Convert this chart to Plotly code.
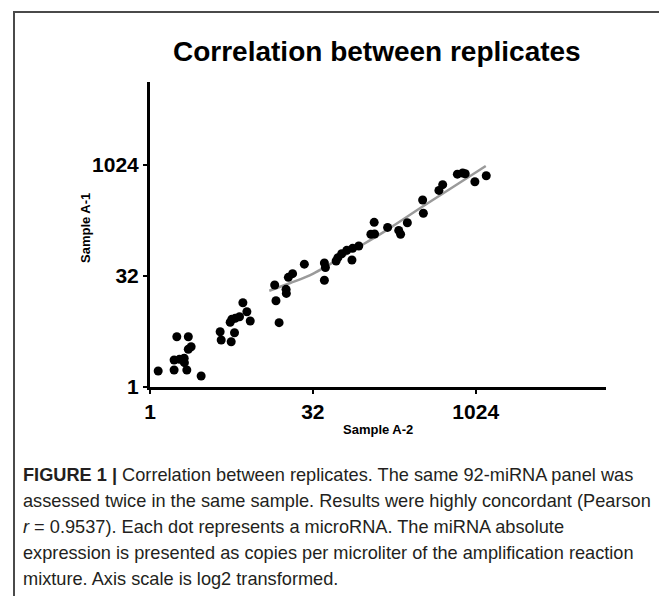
import plotly.graph_objects as go
import math

# ---- data (copies per microliter) ----
sample_a2 = [1.19, 1.67, 1.67, 1.87, 2.07, 2.08, 2.19, 1.77, 2.26, 2.26, 2.40, 2.97,
             4.45, 4.55, 5.63, 6.04, 5.51, 5.71, 6.13, 6.72, 7.86, 7.22, 8.44,
             14.2, 14.6, 15.6, 18.1, 18.2, 19.0, 20.8, 26.7, 40.9, 41.8, 40.9,
             52.5, 54.5, 59.1, 65.8, 74.6, 73.5, 85.0, 110, 119, 118, 157, 199,
             207, 239, 331, 336, 468, 507, 693, 776, 819, 1006, 1281]
sample_a1 = [1.65, 1.70, 2.32, 2.37, 2.45, 2.14, 1.70, 4.81, 4.81, 3.25, 3.52, 1.41,
             5.62, 4.34, 4.11, 5.45, 7.54, 8.28, 8.54, 8.98, 10.5, 13.9, 7.85,
             24.2, 14.8, 7.45, 21.1, 18.6, 30.7, 34.4, 46.3, 48.0, 41.7, 28.0,
             51.1, 56.7, 64.2, 71.4, 76.0, 52.7, 81.6, 118, 119, 171, 146, 133,
             118, 169, 343, 227, 463, 554, 769, 798, 781, 608, 733]

# regression line as drawn
fit_x = [12.66, 19.8, 32.3, 75.9, 144, 331, 1268]
fit_y = [20.2, 25.7, 34.6, 72.1, 126, 280, 993]

tick_vals = [1, 32, 1024]
tick_text = ["1", "32", "1024"]

title_text = "Correlation between replicates"
x_title = "Sample A-2"
y_title = "Sample A-1"
caption_lines = [
    "<b>FIGURE 1 |</b> Correlation between replicates. The same 92-miRNA panel was",
    "assessed twice in the same sample. Results were highly concordant (Pearson",
    "<i>r</i> = 0.9537). Each dot represents a microRNA. The miRNA absolute",
    "expression is presented as copies per microliter of the amplification reaction",
    "mixture. Axis scale is log2 transformed.",
]

# ---- layout geometry (screen pixels; the page body adds an 8px offset) ----
OFF = 8
W, H = 667 - OFF, 596 - OFF
L, R, T, B = 150 - OFF, 606 - OFF, 82 - OFF, 387 - OFF


def pxx(x):
    return (x - OFF - L) / (R - L)


def pxy(y):
    return (B - (y - OFF)) / (B - T)


FONT = "Liberation Sans, Arial, Helvetica, sans-serif"

fig = go.Figure()
fig.add_trace(go.Scatter(x=fit_x, y=fit_y, mode="lines",
                         line=dict(color="#9a9a9a", width=2.5, shape="spline"),
                         hoverinfo="skip", showlegend=False))
fig.add_trace(go.Scatter(x=sample_a2, y=sample_a1, mode="markers",
                         marker=dict(color="black", size=9, line=dict(width=0)),
                         showlegend=False))

log2 = math.log10(2)
fig.update_xaxes(type="log", range=[0, 14 * log2], tickvals=tick_vals, ticktext=tick_text,
                 showgrid=False, zeroline=False, showline=True, linecolor="black", linewidth=3,
                 ticks="outside", ticklen=4, tickwidth=2, tickcolor="black",
                 tickfont=dict(family=FONT, size=21, color="black", weight="bold"))
fig.update_yaxes(type="log", range=[0, 13.74 * log2], tickvals=tick_vals, ticktext=tick_text,
                 showgrid=False, zeroline=False, showline=True, linecolor="black", linewidth=3,
                 ticks="outside", ticklen=4, tickwidth=2, tickcolor="black",
                 tickfont=dict(family=FONT, size=21, color="black", weight="bold"))

annotations = [
    dict(text="<b>" + title_text + "</b>", x=pxx(377), y=pxy(52), xref="paper", yref="paper",
         xanchor="center", yanchor="middle", showarrow=False,
         font=dict(family=FONT, size=28, color="black")),
    dict(text="<b>" + x_title + "</b>", x=pxx(378), y=pxy(429), xref="paper", yref="paper",
         xanchor="center", yanchor="middle", showarrow=False,
         font=dict(family=FONT, size=13, color="black")),
    dict(text="<b>" + y_title + "</b>", x=pxx(85), y=pxy(228), xref="paper", yref="paper",
         xanchor="center", yanchor="middle", showarrow=False, textangle=-90,
         font=dict(family=FONT, size=13, color="black")),
]
caption_y = [475, 501, 527, 553, 579]
for line, cy in zip(caption_lines, caption_y):
    annotations.append(dict(text=line, x=pxx(21), y=pxy(cy), xref="paper", yref="paper",
                            xanchor="left", yanchor="middle", showarrow=False,
                            font=dict(family=FONT, size=18.2, color="#231f20")))

shapes = [
    dict(type="line", xref="paper", yref="paper", x0=pxx(14), x1=pxx(14), y0=pxy(12), y1=pxy(600),
         line=dict(color="#4a4a4a", width=2)),
    dict(type="line", xref="paper", yref="paper", x0=pxx(13), x1=pxx(670), y0=pxy(12), y1=pxy(12),
         line=dict(color="#4a4a4a", width=2)),
]

fig.update_layout(width=W, height=H, margin=dict(l=L, r=W - R, t=T, b=H - B, pad=0),
                  plot_bgcolor="white", paper_bgcolor="white",
                  annotations=annotations, shapes=shapes, showlegend=False)

fig.write_html("out.html")
